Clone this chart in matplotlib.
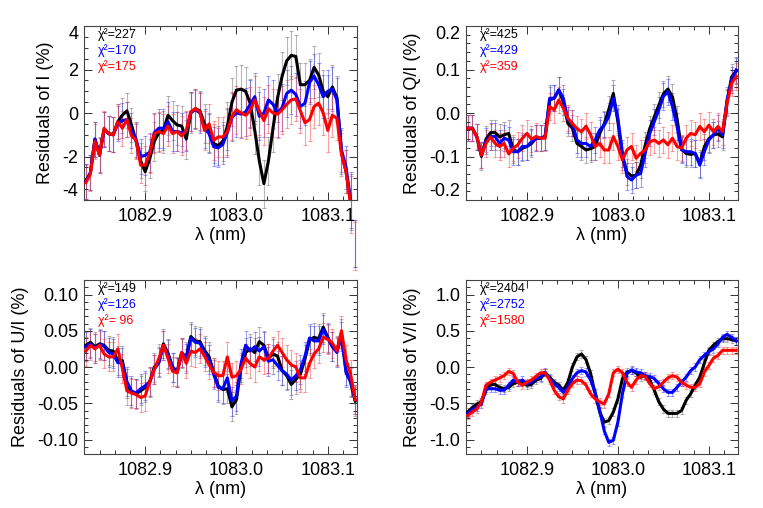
import numpy as np
import matplotlib
matplotlib.use("Agg")
import matplotlib.pyplot as plt
from matplotlib.ticker import MultipleLocator, FixedLocator

plt.rcParams["font.family"] = ["Liberation Sans", "DejaVu Sans"]
plt.rcParams["axes.unicode_minus"] = False

# wavelength grid (nm)
wl = [1082.835, 1082.840, 1082.845, 1082.850, 1082.855, 1082.860, 1082.865, 1082.870, 1082.875, 1082.880,
      1082.885, 1082.890, 1082.895, 1082.900, 1082.905, 1082.910, 1082.915, 1082.920, 1082.925, 1082.930,
      1082.935, 1082.940, 1082.945, 1082.950, 1082.955, 1082.960, 1082.965, 1082.970, 1082.975, 1082.980,
      1082.985, 1082.990, 1082.995, 1083.000, 1083.005, 1083.010, 1083.015, 1083.020, 1083.025, 1083.030,
      1083.035, 1083.040, 1083.045, 1083.050, 1083.055, 1083.060, 1083.065, 1083.070, 1083.075, 1083.080,
      1083.085, 1083.090, 1083.095, 1083.100, 1083.105, 1083.110, 1083.115, 1083.120, 1083.125, 1083.130]

# Residuals of I (%)
I_black = [-3.15, -2.75, -1.2, -1.9, -0.75, -0.95, -1.0, -0.4, -0.1, 0.1,
           -0.55, -1.3, -2.2, -2.7, -2.1, -1.3, -0.9, -0.8, -0.1, -0.35,
           -0.55, -0.6, -1.2, 0.0, 0.2, 0.1, -0.5, -0.9, -1.4, -1.5,
           -1.3, -0.6, 0.5, 1.05, 1.1, 1.0, 0.45, -0.8, -2.2, -3.25,
           -2.2, -0.7, 0.7, 1.7, 2.4, 2.65, 2.6, 1.3, 1.3, 1.5,
           2.1, 1.75, 1.0, 0.75, 1.2, 0.7, -1.8, -2.7, -4.1, -6.0]
I_blue = [-3.15, -2.75, -1.2, -1.95, -0.75, -0.95, -1.0, -0.5, -0.35, -0.3,
          -0.8, -1.2, -2.0, -1.95, -1.8, -0.9, -0.7, -0.7, -0.4, -0.85,
          -0.85, -0.9, -0.85, 0.05, 0.15, 0.0, -0.7, -0.95, -1.55, -1.6,
          -1.45, -0.9, -0.2, 0.0, -0.05, 0.05, 0.4, 0.75, -0.15, 0.0,
          0.6, 0.4, 0.0, 0.25, 0.9, 1.05, 0.85, 0.3, 0.45, 1.4,
          1.7, 1.3, 0.75, 1.0, 1.1, 0.6, -1.7, -2.5, -4.0, -6.0]
I_red = [-3.2, -2.8, -1.3, -1.95, -0.7, -0.95, -1.0, -0.4, -0.7, -0.3,
         -1.05, -1.25, -2.4, -2.4, -1.85, -0.95, -0.85, -0.95, -0.6, -0.95,
         -0.85, -1.05, -0.8, 0.05, 0.2, 0.05, -0.8, -0.5, -1.25, -1.1,
         -1.1, -0.85, -0.15, 0.15, 0.0, -0.1, 0.1, 0.6, 0.1, -0.35,
         0.2, 0.0, -0.05, 0.15, 0.4, 0.6, 0.65, 0.1, -0.45, -0.3,
         0.3, 0.45, 0.0, -0.8, -0.1, -0.25, -1.9, -2.7, -4.2, -6.1]
I_err = [0.8, 0.8, 0.8, 0.8, 0.8, 0.8, 0.8, 0.8, 0.8, 0.8,
         0.8, 0.8, 0.8, 0.9, 0.9, 0.9, 0.9, 0.9, 0.9, 0.9,
         0.9, 0.9, 0.9, 0.9, 0.9, 0.9, 0.9, 0.9, 0.9, 0.9,
         0.9, 1.1, 1.1, 1.1, 1.1, 1.1, 1.1, 1.1, 1.1, 1.1,
         1.1, 1.1, 1.1, 1.1, 1.1, 1.1, 1.0, 1.0, 1.0, 1.0,
         1.0, 1.0, 1.0, 1.0, 1.0, 1.0, 1.0, 1.0, 1.3, 1.1]

# Residuals of Q/I (%)
Q_black = [-0.035, -0.035, -0.055, -0.100, -0.060, -0.045, -0.045, -0.055, -0.050, -0.047,
           -0.085, -0.089, -0.081, -0.077, -0.070, -0.058, -0.058, -0.054, 0.030, 0.034,
           0.053, 0.026, -0.024, -0.035, -0.070, -0.077, -0.085, -0.082, -0.077, -0.047,
           -0.025, 0.008, 0.045, -0.020, -0.100, -0.136, -0.145, -0.143, -0.120, -0.074,
           -0.036, -0.009, 0.018, 0.044, 0.055, 0.037, -0.013, -0.082, -0.093, -0.095,
           -0.093, -0.116, -0.078, -0.059, -0.051, -0.048, -0.055, 0.025, 0.083, 0.096]
Q_blue = [-0.035, -0.035, -0.055, -0.097, -0.065, -0.054, -0.054, -0.070, -0.058, -0.062,
          -0.089, -0.089, -0.077, -0.077, -0.066, -0.058, -0.058, -0.054, 0.034, 0.034,
          0.053, 0.034, -0.016, -0.024, -0.062, -0.070, -0.070, -0.077, -0.062, -0.039,
          -0.028, -0.008, 0.034, -0.012, -0.093, -0.146, -0.154, -0.143, -0.139, -0.093,
          -0.047, -0.020, 0.007, 0.038, 0.049, 0.015, -0.031, -0.085, -0.089, -0.089,
          -0.093, -0.120, -0.089, -0.062, -0.050, -0.035, -0.050, 0.030, 0.076, 0.099]
Q_red = [-0.035, -0.035, -0.055, -0.097, -0.070, -0.055, -0.070, -0.077, -0.070, -0.094,
         -0.081, -0.073, -0.058, -0.047, -0.060, -0.054, -0.058, -0.058, 0.015, 0.007,
         0.030, 0.011, -0.012, -0.024, -0.036, -0.043, -0.030, -0.050, -0.077, -0.070,
         -0.085, -0.085, -0.054, -0.077, -0.108, -0.085, -0.077, -0.104, -0.093, -0.085,
         -0.066, -0.062, -0.070, -0.062, -0.073, -0.058, -0.077, -0.081, -0.058, -0.047,
         -0.050, -0.031, -0.043, -0.028, -0.043, -0.031, -0.043, 0.022, 0.068, 0.084]
Q_err = 0.03

# Residuals of U/I (%)
U_black = [0.030, 0.034, 0.028, 0.032, 0.030, 0.023, 0.022, 0.009, 0.009, -0.023,
           -0.035, -0.037, -0.033, -0.028, -0.021, 0.000, 0.007, 0.032, 0.019, 0.000,
           -0.006, 0.019, 0.014, 0.042, 0.036, 0.035, 0.023, 0.014, -0.007, -0.026,
           -0.031, -0.030, -0.055, -0.045, 0.000, 0.020, 0.025, 0.020, 0.035, 0.030,
           0.012, 0.018, 0.015, -0.005, -0.012, -0.024, -0.017, -0.010, 0.011, 0.037,
           0.041, 0.039, 0.055, 0.041, 0.028, 0.023, 0.046, -0.005, -0.021, -0.047]
U_blue = [0.028, 0.032, 0.026, 0.031, 0.029, 0.020, 0.018, 0.006, 0.006, -0.020,
          -0.033, -0.036, -0.030, -0.026, -0.020, -0.003, 0.006, 0.030, 0.017, 0.000,
          -0.008, 0.020, 0.012, 0.040, 0.034, 0.033, 0.020, 0.010, -0.010, -0.028,
          -0.030, -0.015, -0.047, -0.040, 0.005, 0.030, 0.022, 0.028, 0.022, 0.028,
          0.008, 0.010, 0.002, -0.005, -0.010, -0.018, -0.012, -0.004, 0.015, 0.040,
          0.036, 0.036, 0.052, 0.040, 0.028, 0.020, 0.042, -0.008, -0.020, -0.045]
U_red = [0.022, 0.030, 0.025, 0.030, 0.018, 0.014, 0.014, 0.025, -0.002, -0.033,
         -0.036, -0.038, -0.042, -0.040, -0.020, -0.003, 0.012, 0.030, 0.012, -0.006,
         -0.008, 0.020, 0.005, 0.022, 0.020, 0.025, 0.015, 0.003, -0.007, -0.012,
         -0.012, 0.014, -0.014, -0.012, -0.003, 0.012, 0.005, 0.000, 0.014, 0.010,
         0.012, 0.022, 0.030, 0.020, 0.010, 0.003, 0.000, -0.015, -0.015, 0.005,
         0.018, 0.025, 0.041, 0.038, 0.033, 0.022, 0.050, 0.010, -0.010, -0.045]
U_err = 0.02

# Residuals of V/I (%)
V_black = [-0.62, -0.56, -0.51, -0.48, -0.32, -0.24, -0.24, -0.28, -0.30, -0.28,
           -0.23, -0.21, -0.21, -0.25, -0.24, -0.18, -0.16, -0.08, -0.14, -0.21,
           -0.25, -0.32, -0.21, 0.00, 0.14, 0.18, 0.10, -0.09, -0.37, -0.62,
           -0.76, -0.74, -0.62, -0.44, -0.16, -0.07, -0.05, -0.08, -0.14, -0.12,
           -0.18, -0.32, -0.48, -0.58, -0.64, -0.64, -0.64, -0.60, -0.46, -0.37,
           -0.25, -0.14, 0.05, 0.23, 0.30, 0.35, 0.39, 0.39, 0.38, 0.36]
V_blue = [-0.64, -0.59, -0.55, -0.51, -0.30, -0.30, -0.30, -0.32, -0.32, -0.25,
          -0.18, -0.21, -0.18, -0.23, -0.21, -0.16, -0.14, -0.07, -0.16, -0.23,
          -0.28, -0.35, -0.28, -0.16, -0.08, -0.05, -0.07, -0.18, -0.35, -0.60,
          -0.88, -1.04, -1.01, -0.76, -0.37, -0.09, -0.04, -0.07, -0.08, -0.12,
          -0.13, -0.16, -0.23, -0.30, -0.35, -0.35, -0.28, -0.21, -0.14, -0.05,
          0.00, 0.10, 0.16, 0.21, 0.25, 0.32, 0.41, 0.45, 0.41, 0.36]
V_red = [-0.67, -0.62, -0.58, -0.48, -0.25, -0.21, -0.18, -0.15, -0.12, -0.06,
         -0.09, -0.21, -0.25, -0.21, -0.18, -0.13, -0.08, -0.08, -0.18, -0.32,
         -0.41, -0.44, -0.32, -0.23, -0.18, -0.19, -0.25, -0.37, -0.44, -0.48,
         -0.51, -0.37, -0.08, -0.03, -0.08, -0.21, -0.28, -0.18, -0.12, -0.13,
         -0.23, -0.30, -0.27, -0.21, -0.15, -0.12, -0.14, -0.21, -0.25, -0.28,
         -0.28, -0.23, -0.07, 0.02, 0.12, 0.16, 0.23, 0.23, 0.23, 0.23]
V_err = 0.05

chi_I = ["χ²=227", "χ²=170", "χ²=175"]
chi_Q = ["χ²=425", "χ²=429", "χ²=359"]
chi_U = ["χ²=149", "χ²=126", "χ²= 96"]
chi_V = ["χ²=2404", "χ²=2752", "χ²=1580"]

line_colors = ["black", "#0000ff", "#ff0000"]
err_colors = ["#606060", "#3030ff", "#ff3030"]

panels = [
    dict(series=[I_black, I_blue, I_red], err=I_err, chi=chi_I, ylabel="Residuals of I (%)",
         ylim=(-4, 4), major=[-4, -2, 0, 2, 4], fmt="%d", minor=0.5, rect=[0.1101, 0.6063, 0.3578, 0.3425],
         edge_labels=True, noclip=True),
    dict(series=[Q_black, Q_blue, Q_red], err=Q_err, chi=chi_Q, ylabel="Residuals of Q/I (%)",
         ylim=(-0.2, 0.2), major=[-0.2, -0.1, 0.0, 0.1, 0.2], fmt="%.1f", minor=0.02,
         rect=[0.6107, 0.6063, 0.3565, 0.3425], edge_labels=True, noclip=False),
    dict(series=[U_black, U_blue, U_red], err=U_err, chi=chi_U, ylabel="Residuals of U/I (%)",
         ylim=(-0.12, 0.12), major=[-0.10, -0.05, 0.0, 0.05, 0.10], fmt="%.2f", minor=0.01,
         rect=[0.1101, 0.1063, 0.3578, 0.3425], edge_labels=False, noclip=False),
    dict(series=[V_black, V_blue, V_red], err=V_err, chi=chi_V, ylabel="Residuals of V/I (%)",
         ylim=(-1.2, 1.2), major=[-1.0, -0.5, 0.0, 0.5, 1.0], fmt="%.1f", minor=0.1,
         rect=[0.6107, 0.1063, 0.3565, 0.3425], edge_labels=False, noclip=False),
]

fig = plt.figure(figsize=(7.63, 5.08), dpi=100)

for p in panels:
    ax = fig.add_axes(p["rect"])
    for y, ec in zip(p["series"], err_colors):
        eb = ax.errorbar(wl, y, yerr=p["err"], fmt="none", ecolor=ec, alpha=0.45,
                         elinewidth=0.8, capsize=1.3, capthick=0.8, zorder=1)
        if p["noclip"]:
            for art in list(eb.lines[1]) + list(eb.lines[2]):
                art.set_clip_on(False)
    for y, c in zip(p["series"], line_colors):
        ax.plot(wl, y, color=c, lw=2.2, zorder=3)

    ax.set_xlim(1082.833, 1083.132)
    ax.set_ylim(*p["ylim"])
    ax.xaxis.set_major_locator(FixedLocator([1082.9, 1083.0, 1083.1]))
    ax.set_xticklabels(["1082.9", "1083.0", "1083.1"])
    ax.xaxis.set_minor_locator(MultipleLocator(0.1 / 6))
    ax.yaxis.set_major_locator(FixedLocator(p["major"]))
    ax.set_yticklabels([p["fmt"] % v for v in p["major"]])
    ax.yaxis.set_minor_locator(MultipleLocator(p["minor"]))
    ax.tick_params(which="both", direction="in", top=True, right=True, width=0.7, colors="#333333",
                   labelcolor="black", labelsize=13)
    ax.tick_params(which="major", length=6)
    ax.tick_params(which="minor", length=3)
    ax.tick_params(axis="x", pad=6)
    ax.tick_params(axis="y", pad=4)
    for s in ax.spines.values():
        s.set_linewidth(0.8)
        s.set_color("#444444")

    if p["edge_labels"]:
        ticks = ax.yaxis.get_major_ticks()
        ticks[0].label1.set_verticalalignment("bottom")
        ticks[-1].label1.set_verticalalignment("top")

    ax.set_xlabel("λ (nm)", fontsize=13, labelpad=1)
    ax.set_ylabel(p["ylabel"], fontsize=13, labelpad=6)

    for i, (txt, c) in enumerate(zip(p["chi"], line_colors)):
        ax.text(0.05, 0.948 - 0.09 * i, txt, transform=ax.transAxes, color=c,
                fontsize=9, va="center", ha="left", zorder=5)

fig.savefig("out.png", dpi=100)
